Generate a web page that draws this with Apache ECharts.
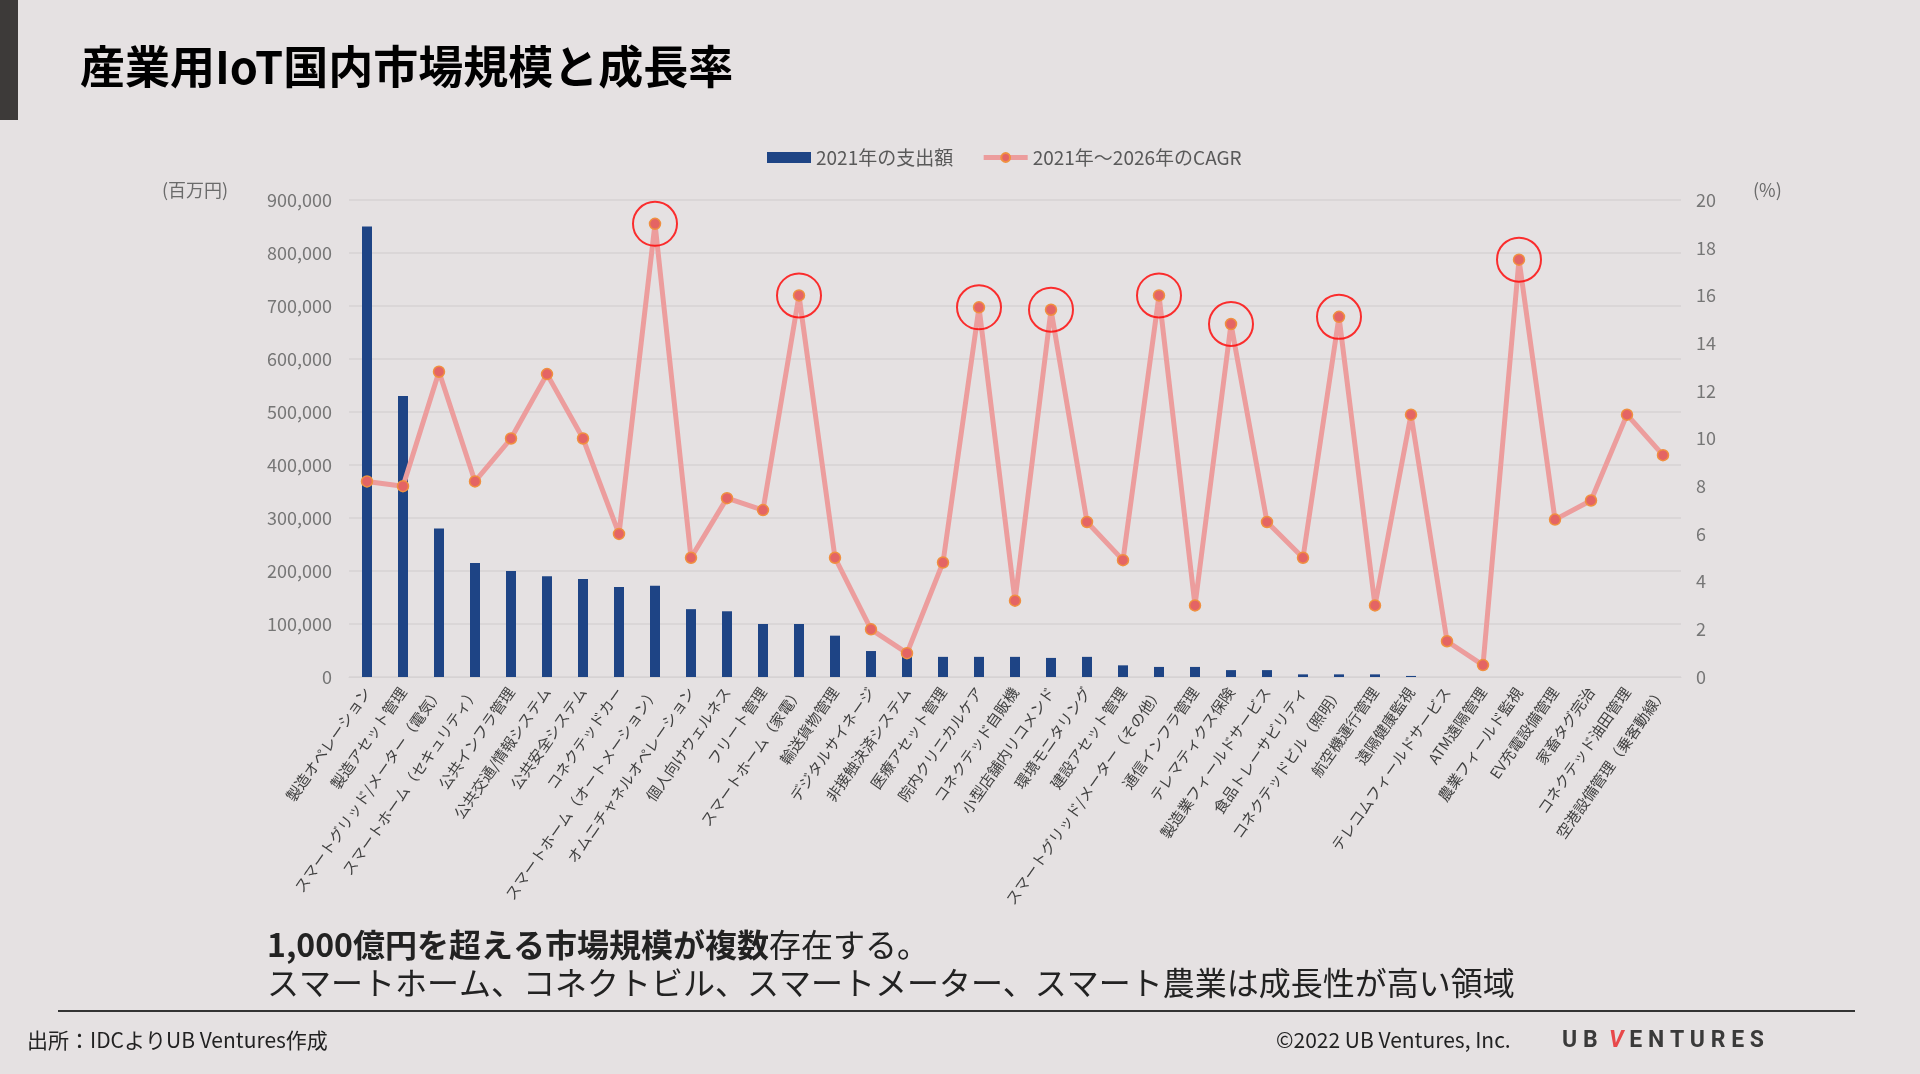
<!DOCTYPE html>
<html>
<head>
<meta charset="utf-8">
<script src="https://cdn.jsdelivr.net/npm/echarts@6/dist/echarts.min.js"></script>
<style>
html,body{margin:0;padding:0;background:#e5e1e2;}
#chart{width:1920px;height:1074px;}
</style>
</head>
<body>
<div id="chart"></div>
<script>
const categories = [
  '製造オペレーション','製造アセット管理','スマートグリッド/メーター（電気）','スマートホーム（セキュリティ）',
  '公共インフラ管理','公共交通/情報システム','公共安全システム','コネクテッドカー',
  'スマートホーム（オートメーション）','オムニチャネルオペレーション','個人向けウェルネス','フリート管理',
  'スマートホーム（家電）','輸送貨物管理','デジタルサイネージ','非接触決済システム',
  '医療アセット管理','院内クリニカルケア','コネクテッド自販機','小型店舗内リコメンド',
  '環境モニタリング','建設アセット管理','スマートグリッド/メーター（その他）','通信インフラ管理',
  'テレマティクス保険','製造業フィールドサービス','食品トレーサビリティ','コネクテッドビル（照明）',
  '航空機運行管理','遠隔健康監視','テレコムフィールドサービス','ATM遠隔管理',
  '農業フィールド監視','EV充電設備管理','家畜タグ完治','コネクテッド油田管理','空港設備管理（乗客動線）'
];
const spending = [850000,530000,280000,215000,200000,190000,185000,170000,172000,128000,124000,100000,100000,78000,49000,40000,38000,38000,38000,36000,38000,22000,19000,19000,13000,13000,5000,5000,5000,2000,0,0,0,0,0,0,0];
const cagr = [8.2,8.0,12.8,8.2,10.0,12.7,10.0,6.0,19.0,5.0,7.5,7.0,16.0,5.0,2.0,1.0,4.8,15.5,3.2,15.4,6.5,4.9,16.0,3.0,14.8,6.5,5.0,15.1,3.0,11.0,1.5,0.5,17.5,6.6,7.4,11.0,9.3];
const highlighted = [8,12,17,19,22,24,27,32];
const leftTicks = {min:0, max:900000, interval:100000};
const rightTicks = {min:0, max:20, interval:2};
const seriesNames = ['2021年の支出額','2021年～2026年のCAGR'];

const FONT = '"Noto Sans CJK JP","Noto Sans",sans-serif';
const chart = echarts.init(document.getElementById('chart'));
const option = {
  backgroundColor:'#e5e1e2',
  animation:false,
  textStyle:{fontFamily:FONT},
  legend:{
    left:762, top:143, itemGap:28, itemWidth:44, itemHeight:11,
    textStyle:{fontSize:19, color:'#595959', fontFamily:FONT},
    data:[
      {name:seriesNames[0], icon:'rect'},
      {name:seriesNames[1], lineStyle:{width:5, color:'#ec9d9d'}}
    ]
  },
  grid:{left:349, right:239, top:200, bottom:397},
  xAxis:{
    type:'category', data:categories,
    axisTick:{show:false},
    axisLine:{lineStyle:{color:'#d6d2d3', width:1}},
    axisLabel:{rotate:55, interval:0, fontSize:15, color:'#404040', margin:12, fontFamily:FONT}
  },
  yAxis:[
    {type:'value', min:leftTicks.min, max:leftTicks.max, interval:leftTicks.interval,
     axisLine:{show:false}, axisTick:{show:false},
     axisLabel:{fontSize:18, color:'#767676', margin:17, fontFamily:FONT},
     splitLine:{lineStyle:{color:'#d6d2d3', width:1.5}}},
    {type:'value', min:rightTicks.min, max:rightTicks.max, interval:rightTicks.interval,
     axisLine:{show:false}, axisTick:{show:false}, splitLine:{show:false},
     axisLabel:{fontSize:18, color:'#767676', margin:15, fontFamily:FONT}}
  ],
  series:[
    {name:seriesNames[0], type:'bar', data:spending, barWidth:10,
     itemStyle:{color:'#1e4485'}, z:2},
    {name:seriesNames[1], type:'line', yAxisIndex:1, data:cagr,
     symbol:'circle', symbolSize:11,
     lineStyle:{color:'#ec9d9d', width:5},
     itemStyle:{color:'#e46464', borderColor:'#f09040', borderWidth:1.5}, z:3},
    {name:'highlight', type:'scatter', yAxisIndex:1, silent:true,
     data:highlighted.map(i => [categories[i], cagr[i]]),
     symbol:'circle', symbolSize:44,
     itemStyle:{color:'rgba(0,0,0,0)', borderColor:'#ff0000', borderWidth:2}, z:4}
  ],
  graphic:[
    {type:'rect', shape:{x:0,y:0,width:18,height:120}, style:{fill:'#3d3a39'}},
    {type:'text', x:80, y:67, style:{text:'産業用IoT国内市場規模と成長率', fontSize:45, fontWeight:'bold', fontFamily:FONT, fill:'#000', verticalAlign:'middle'}},
    {type:'text', x:162, y:190, style:{text:'(百万円)', fontSize:18, fontFamily:FONT, fill:'#6b6b6b', verticalAlign:'middle'}},
    {type:'text', x:1753, y:190, style:{text:'(%)', fontSize:18, fontFamily:FONT, fill:'#6b6b6b', verticalAlign:'middle'}},
    {type:'text', x:267, y:945, style:{text:'{b|1,000億円を超える市場規模が複数}{n|存在する。}', verticalAlign:'middle',
      rich:{b:{fontSize:32, fontWeight:'bold', fontFamily:FONT, fill:'#222', color:'#222'}, n:{fontSize:32, fontFamily:FONT, fill:'#222', color:'#222'}}}},
    {type:'text', x:267, y:983, style:{text:'スマートホーム、コネクトビル、スマートメーター、スマート農業は成長性が高い領域', fontSize:32, fontFamily:FONT, fill:'#222', verticalAlign:'middle'}},
    {type:'line', shape:{x1:58,y1:1011,x2:1855,y2:1011}, style:{stroke:'#333', lineWidth:2}},
    {type:'text', x:27, y:1040, style:{text:'出所：IDCよりUB Ventures作成', fontSize:21, fontFamily:FONT, fill:'#222', verticalAlign:'middle'}},
    {type:'text', x:1276, y:1040, style:{text:'©2022 UB Ventures, Inc.', fontSize:21, fontFamily:FONT, fill:'#222', verticalAlign:'middle'}},
    {type:'text', x:1562, y:1041, style:{text:'{g|U B  }{r|V}{g| E N T U R E S}', verticalAlign:'middle',
      rich:{g:{fontSize:23, fontWeight:'bold', fontFamily:'Roboto', fill:'#3a3a3a', color:'#3a3a3a'},
            r:{fontSize:23, fontWeight:'bold', fontStyle:'italic', fontFamily:'Roboto', fill:'#e8484a', color:'#e8484a'}}}}
  ]
};
chart.setOption(option);
</script>
</body>
</html>
